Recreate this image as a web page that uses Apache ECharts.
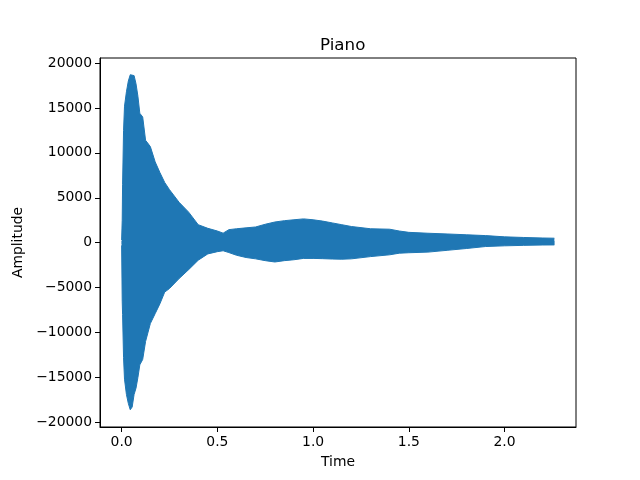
<!DOCTYPE html>
<html lang="en">
<head>
	<meta charset="UTF-8">
	<title>Piano</title>
	<style>
       html, body { margin: 0; padding: 0; background: #fff; }
       #chart_box { width: 640px; height: 480px; }
	</style>
	<script type="text/javascript" src="https://cdn.jsdelivr.net/npm/echarts@6/dist/echarts.min.js"></script>
</head>
<body>
	<div id="chart_box"></div>
	<script type="text/javascript">
      // envelope of the waveform
      var time = [0, 0.003, 0.005, 0.01, 0.015, 0.025, 0.035, 0.045, 0.055, 0.065, 0.075, 0.085, 0.095,
                  0.11, 0.125, 0.15, 0.175, 0.2, 0.225, 0.25, 0.3, 0.35, 0.4, 0.45, 0.5, 0.53, 0.56, 0.6,
                  0.65, 0.7, 0.75, 0.8, 0.85, 0.9, 0.95, 1.0, 1.05, 1.1, 1.15, 1.2, 1.3, 1.4, 1.45, 1.5,
                  1.6, 1.7, 1.8, 1.9, 2.0, 2.1, 2.2, 2.26];
      var upper = [300, 2500, 6500, 12500, 15200, 16800, 18000, 18700, 18800, 18600, 17700, 16300, 14400,
                   14000, 11400, 10700, 9000, 7800, 6700, 5900, 4500, 3400, 2000, 1600, 1300, 1060, 1450, 1550,
                   1650, 1750, 2050, 2300, 2450, 2550, 2650, 2550, 2400, 2200, 2000, 1800, 1550, 1500, 1300, 1150,
                   1050, 970, 880, 790, 650, 580, 520, 500];
      var lower = [-300, -6500, -8000, -12800, -15200, -16900, -17900, -18600, -18300, -16900, -16200, -15000, -13600,
                   -13000, -11000, -9000, -7900, -6800, -5500, -5100, -4000, -3000, -1950, -1250, -1000, -900, -1100, -1400,
                   -1650, -1800, -2000, -2150, -2000, -1900, -1750, -1750, -1780, -1820, -1840, -1800, -1550, -1350, -1170, -1120,
                   -1050, -850, -650, -430, -350, -300, -260, -250];
      var xTicks = [0, 0.5, 1, 1.5, 2];
      var yTicks = [-20000, -15000, -10000, -5000, 0, 5000, 10000, 15000, 20000];

      var chart = echarts.init(document.getElementById('chart_box'));

      var upData = [], loData = [];
      for (var i = 0; i < time.length; i++) {
          upData.push([time[i], upper[i]]);
          loData.push([time[i], lower[i]]);
      }

      var font = 'DejaVu Sans';
      var option = {
          animation: false,
          color: ['#1f77b4'],
          title: {
              text: 'Piano',
              left: 315,
              top: 32,
              textStyle: { fontFamily: font, fontSize: 16.7, fontWeight: 'normal', color: '#000' }
          },
          grid: {
              left: 100, right: 64, top: 58, bottom: 53,
              show: true, borderColor: '#000', borderWidth: 1, backgroundColor: 'transparent'
          },
          xAxis: {
              type: 'value',
              min: -0.113,
              max: 2.373,
              name: 'Time',
              nameLocation: 'middle',
              nameGap: 28,
              nameTextStyle: { fontFamily: font, fontSize: 13.9, color: '#000' },
              axisLine: { show: true, onZero: false, lineStyle: { color: '#000', width: 1 } },
              splitLine: { show: false },
              axisTick: { show: true, length: 5, customValues: xTicks, lineStyle: { color: '#000' } },
              axisLabel: {
                  customValues: xTicks,
                  fontFamily: font, fontSize: 13.9, color: '#000', margin: 8,
                  formatter: function (v) { return v.toFixed(1); }
              }
          },
          yAxis: {
              type: 'value',
              min: -20520,
              max: 20560,
              name: 'Amplitude',
              nameLocation: 'middle',
              nameGap: 73,
              nameTextStyle: { fontFamily: font, fontSize: 13.9, color: '#000' },
              axisLine: { show: true, onZero: false, lineStyle: { color: '#000', width: 1 } },
              splitLine: { show: false },
              axisTick: { show: true, length: 5, customValues: yTicks, lineStyle: { color: '#000' } },
              axisLabel: {
                  customValues: yTicks,
                  fontFamily: font, fontSize: 13.9, color: '#000', margin: 8,
                  formatter: function (v) { return v < 0 ? '\u2212' + (-v) : '' + v; }
              }
          },
          series: [
              {
                  // upper edge filled down a little past zero so the two halves overlap
                  type: 'line', data: upData, showSymbol: false,
                  lineStyle: { width: 1, color: '#1f77b4' },
                  areaStyle: { color: '#1f77b4', opacity: 1, origin: -200 }
              },
              {
                  type: 'line', data: loData, showSymbol: false,
                  lineStyle: { width: 1, color: '#1f77b4' },
                  areaStyle: { color: '#1f77b4', opacity: 1, origin: 200 }
              }
          ]
      };
      chart.setOption(option);
	</script>
</body>
</html>
